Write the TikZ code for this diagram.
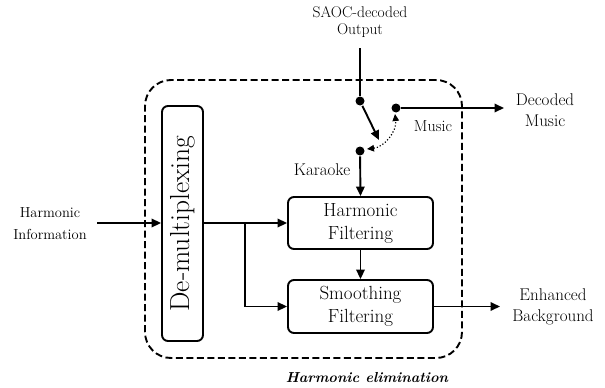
\documentclass[tikz,border=0pt]{standalone}
\usetikzlibrary{arrows.meta}
\begin{document}
\begin{tikzpicture}[x=1pt,y=-1pt,
  line width=1.9pt,
  arr/.style={-{Triangle[length=9.5pt,width=8.5pt]}},
  block/.style={draw,rounded corners=6pt,align=center,inner sep=0pt,
    font=\fontsize{19}{23}\selectfont},
  lbl/.style={align=center,inner sep=0pt,font=\fontsize{17}{21.5}\selectfont},
  dot/.style={circle,fill,inner sep=0pt,minimum size=9pt},
  dashedregion/.style={draw,dashed,dash pattern=on 7pt off 3.5pt,
    rounded corners=26pt,inner sep=0pt}]
  \useasboundingbox (0,0) rectangle (605,388);

  % enclosing harmonic-elimination region
  \node[dashedregion,minimum width=317pt,minimum height=278pt] (elim) at (303.5,219) {};
  \node[inner sep=0pt,font=\fontsize{14.5}{18}\selectfont\bfseries\itshape] (elimlbl) at (367,378) {Harmonic elimination};

  % processing blocks
  \node[block,minimum width=41pt,minimum height=235pt] (demux) at (182.5,223.5)
    {\rotatebox{90}{\fontsize{27.5}{29}\selectfont De-multiplexing}};
  \node[block,minimum width=145pt,minimum height=52pt] (hf) at (360.5,223) {Harmonic\\Filtering};
  \node[block,minimum width=145pt,minimum height=53pt] (sf) at (360.5,306.5) {Smoothing\\Filtering};

  % outer labels
  \node[lbl,font=\fontsize{14.5}{22}\selectfont] (hinfo) at (50,224) {Harmonic\\Information};
  \node[lbl,font=\fontsize{15.5}{17}\selectfont] (saoc) at (360,22) {SAOC-decoded\\Output};
  \node[lbl] (decmus) at (545,110) {Decoded\\Music};
  \node[lbl] (enh) at (553,307) {Enhanced\\Background};
  \node[lbl] (karaoke) at (322,170) {Karaoke};
  \node[lbl,font=\fontsize{16}{20}\selectfont] (music) at (433,126) {Music};

  % switch contacts
  \node[dot] (swin) at (360,101) {};
  \node[dot] (swk) at (360,151) {};
  \node[dot] (swm) at (396,108) {};
  \coordinate (saocin) at (360,48);
  \coordinate (armend) at (379,140);
  \coordinate (musicout) at (504,108);
  \coordinate (bgout) at (500,306.5);
  \coordinate (hin) at (97,223);
  \coordinate (br) at (245,223);
  \coordinate (togk) at (367,149);
  \coordinate (togm) at (395,114);

  % switch
  \draw (saocin) -- (swin);
  \draw[arr] (swin) -- (armend);
  \draw[line width=1.2pt,dotted,{Triangle[length=7pt,width=6.5pt]}-{Triangle[length=7pt,width=6.5pt]}]
    (togk) to[bend right=45] (togm);
  \draw[arr] (swm) -- (musicout);
  \draw[arr] (swk) -- (hf.north);

  % signal flow
  \draw[arr] (hin) -- (hin -| demux.west);
  \draw[arr] (demux.east |- hf.west) -- (hf.west);
  \draw[arr] (br) |- (sf.west);
  \draw[arr] (hf.south) -- (sf.north);
  \draw[arr] (sf.east) -- (bgout);
\end{tikzpicture}
\end{document}
